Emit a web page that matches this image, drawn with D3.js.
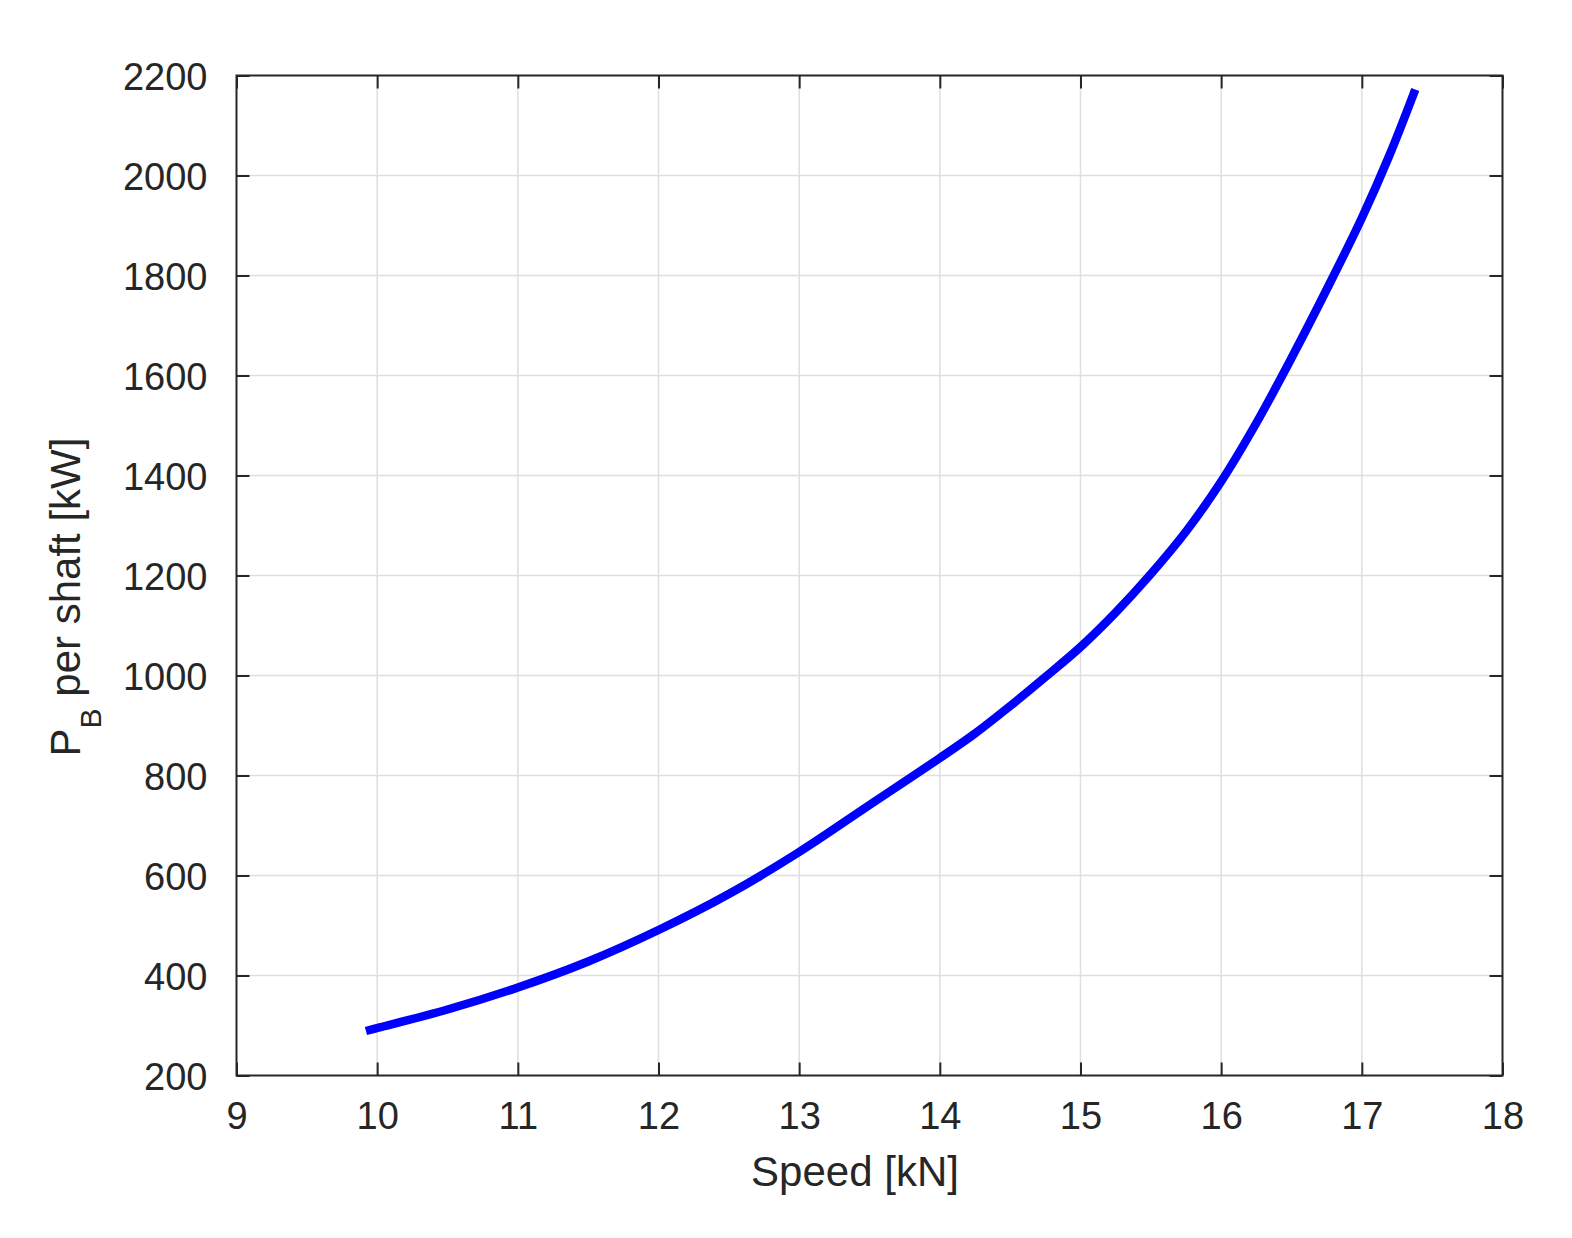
<!DOCTYPE html>
<html>
<head>
<meta charset="utf-8">
<script src="https://cdn.jsdelivr.net/npm/d3@7"></script>
<style>
  html, body { margin: 0; padding: 0; background: #fff; }
  svg { display: block; }
  text { font-family: "Liberation Sans", Arial, Helvetica, sans-serif; fill: #262626; }
</style>
</head>
<body>
<svg id="chart" width="1572" height="1238"></svg>
<script>
// Data
const speed = [9.92, 10, 10.5, 11, 11.5, 12, 12.5, 13, 13.5, 14, 14.25, 14.5, 14.75, 15, 15.25, 15.5, 15.75, 16, 16.25, 16.5, 16.75, 17, 17.2, 17.38];
const power = [289, 295, 332, 376, 428, 491, 563, 647, 741, 835, 884, 939, 997, 1057, 1126, 1203, 1288, 1388, 1505, 1635, 1772, 1915, 2043, 2172];
const xTicks = [9, 10, 11, 12, 13, 14, 15, 16, 17, 18];
const yTicks = [200, 400, 600, 800, 1000, 1200, 1400, 1600, 1800, 2000, 2200];
const xLabel = "Speed [kN]";
const yLabelMain = "P";
const yLabelSub = "B";
const yLabelRest = " per shaft [kW]";

const svg = d3.select("#chart");
const pL = 236.5, pR = 1502.5, pT = 75.5, pB = 1075.5;
const x = d3.scaleLinear().domain([9, 18]).range([pL, pR]);
const y = d3.scaleLinear().domain([200, 2200]).range([pB, pT]);
const ink = "#262626";
const tickLen = 13;

// grid
const grid = svg.append("g");
grid.selectAll(".gx").data(xTicks.slice(1, -1)).join("line")
  .attr("x1", d => x(d)).attr("x2", d => x(d)).attr("y1", pT).attr("y2", pB)
  .attr("stroke", "#dfdfdf").attr("stroke-width", 1.5);
grid.selectAll(".gy").data(yTicks.slice(1, -1)).join("line")
  .attr("y1", d => y(d)).attr("y2", d => y(d)).attr("x1", pL).attr("x2", pR)
  .attr("stroke", "#dfdfdf").attr("stroke-width", 1.5);

// axes
function styleAxis(g, showLabels) {
  g.select(".domain").remove();
  g.selectAll(".tick line").attr("stroke", ink).attr("stroke-width", 2);
  if (!showLabels) g.selectAll(".tick text").remove();
  else g.selectAll(".tick text").attr("fill", ink)
        .style("font-family", '"Liberation Sans", Arial, Helvetica, sans-serif')
        .style("font-size", "38px");
}
const xb = svg.append("g").attr("transform", `translate(0,${pB})`)
  .call(d3.axisBottom(x).tickValues(xTicks).tickSizeInner(-tickLen).tickSizeOuter(0).tickPadding(0).tickFormat(d3.format("d")));
styleAxis(xb, true);
xb.selectAll(".tick text").attr("y", 53).attr("dy", 0);

const xt = svg.append("g").attr("transform", `translate(0,${pT})`)
  .call(d3.axisTop(x).tickValues(xTicks).tickSizeInner(-tickLen).tickSizeOuter(0));
styleAxis(xt, false);

const yl = svg.append("g").attr("transform", `translate(${pL},0)`)
  .call(d3.axisLeft(y).tickValues(yTicks).tickSizeInner(-tickLen).tickSizeOuter(0).tickFormat(d3.format("d")));
styleAxis(yl, true);
yl.selectAll(".tick text").attr("x", -29).attr("dy", "0.36em").attr("text-anchor", "end");

const yr = svg.append("g").attr("transform", `translate(${pR},0)`)
  .call(d3.axisRight(y).tickValues(yTicks).tickSizeInner(-tickLen).tickSizeOuter(0));
styleAxis(yr, false);

// frame
svg.append("rect").attr("x", pL).attr("y", pT).attr("width", pR - pL).attr("height", pB - pT)
  .attr("fill", "none").attr("stroke", ink).attr("stroke-width", 2);

// curve
const pts = speed.map((s, i) => [s, power[i]]);
const line = d3.line().x(d => x(d[0])).y(d => y(d[1])).curve(d3.curveCatmullRom.alpha(0.5));
svg.append("path").datum(pts).attr("d", line)
  .attr("fill", "none").attr("stroke", "#0000ff").attr("stroke-width", 8.5)
  .attr("stroke-linejoin", "round").attr("stroke-linecap", "butt");

// x label
svg.append("text").attr("x", 855).attr("y", 1186).attr("text-anchor", "middle")
  .style("font-size", "42px").text(xLabel);

// y label
const yt = svg.append("text").attr("transform", "translate(80,597) rotate(-90)")
  .attr("text-anchor", "middle").style("font-size", "42px");
yt.append("tspan").text(yLabelMain);
yt.append("tspan").attr("dy", 21).style("font-size", "30px").text(yLabelSub);
yt.append("tspan").attr("dy", -21).text(yLabelRest);
</script>
</body>
</html>
